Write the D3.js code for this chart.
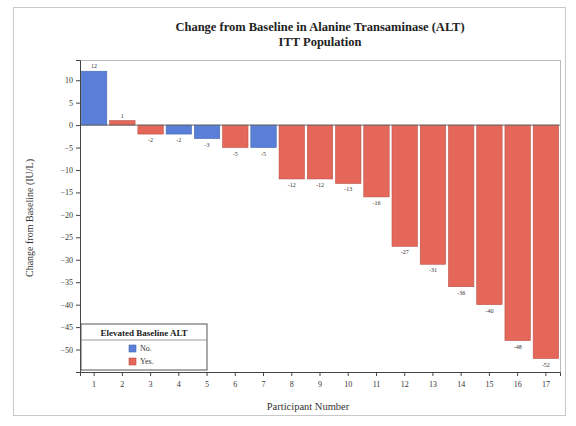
<!DOCTYPE html>
<html>
<head>
<meta charset="utf-8">
<script src="https://cdn.jsdelivr.net/npm/d3@7"></script>
<style>
  body { margin: 0; background: #fff; }
  svg { display: block; }
</style>
</head>
<body>
<svg id="chart" width="576" height="426"></svg>
<script>
const participants = ["1","2","3","4","5","6","7","8","9","10","11","12","13","14","15","16","17"];
const changeALT = [12, 1, -2, -2, -3, -5, -5, -12, -12, -13, -16, -27, -31, -36, -40, -48, -52];
const elevated = ["No","Yes","Yes","No","No","Yes","No","Yes","Yes","Yes","Yes","Yes","Yes","Yes","Yes","Yes","Yes"];
const yTicks = [10, 5, 0, -5, -10, -15, -20, -25, -30, -35, -40, -45, -50];
const legendItems = ["No", "Yes"];

const colors = { "No": "#5a7fd8", "Yes": "#e5675a" };
const svg = d3.select("#chart");
const W = 576, H = 426;
const m = { left: 80, right: 16, top: 60, bottom: 54 };
const pw = W - m.left - m.right, ph = H - m.top - m.bottom;
const fontSerif = "'Liberation Serif', 'DejaVu Serif', serif";

// outer frame
svg.append("rect").attr("x", 13.5).attr("y", 7.5).attr("width", 552).attr("height", 408)
  .attr("fill", "#fff").attr("stroke", "#c8c8c8");

const x = d3.scaleBand().domain(participants).range([m.left, m.left + pw]).paddingInner(0.1).paddingOuter(0.05);
const y = d3.scaleLinear().domain([-55, 14.5]).range([m.top + ph, m.top]);

// plot frame
svg.append("rect").attr("x", m.left + 0.5).attr("y", m.top + 0.5).attr("width", pw).attr("height", ph)
  .attr("fill", "none").attr("stroke", "#bbb");

// bars
const bars = participants.map((p, i) => ({ p, v: changeALT[i], g: elevated[i] }));
svg.append("g").selectAll("rect").data(bars).join("rect")
  .attr("x", d => x(d.p))
  .attr("width", x.bandwidth())
  .attr("y", d => y(Math.max(0, d.v)))
  .attr("height", d => Math.abs(y(d.v) - y(0)))
  .attr("fill", d => colors[d.g])
  .attr("stroke", d => d3.color(colors[d.g]).darker(0.6))
  .attr("stroke-width", 0.6);

// zero line
svg.append("line").attr("x1", m.left).attr("x2", m.left + pw).attr("y1", y(0)).attr("y2", y(0))
  .attr("stroke", "#666").attr("stroke-width", 1);

// value labels
svg.append("g").selectAll("text").data(bars).join("text")
  .attr("x", d => x(d.p) + x.bandwidth() / 2)
  .attr("y", d => d.v >= 0 ? y(d.v) - 3 : y(d.v) + 8)
  .attr("text-anchor", "middle")
  .attr("font-family", fontSerif)
  .attr("font-size", 6)
  .attr("fill", "#333")
  .text(d => d.v);

// axes
const yAxis = svg.append("g").attr("transform", `translate(${m.left},0)`)
  .call(d3.axisLeft(y).tickValues(yTicks).tickSize(4).tickPadding(3));
const xAxis = svg.append("g").attr("transform", `translate(0,${m.top + ph})`)
  .call(d3.axisBottom(x).tickSize(4).tickPadding(5));
[yAxis, xAxis].forEach(a => {
  a.selectAll("text").attr("font-family", fontSerif).attr("font-size", 8).attr("fill", "#333");
  a.selectAll("line").attr("stroke", "#444");
  a.select(".domain").attr("stroke", "#444");
});

// titles
svg.append("text").attr("x", m.left + pw / 2).attr("y", 31).attr("text-anchor", "middle")
  .attr("font-family", fontSerif).attr("font-weight", "bold").attr("font-size", 12.5).attr("fill", "#222")
  .text("Change from Baseline in Alanine Transaminase (ALT)");
svg.append("text").attr("x", m.left + pw / 2).attr("y", 46).attr("text-anchor", "middle")
  .attr("font-family", fontSerif).attr("font-weight", "bold").attr("font-size", 12.5).attr("fill", "#222")
  .text("ITT Population");

svg.append("text").attr("x", m.left + pw / 2 - 12).attr("y", 410).attr("text-anchor", "middle")
  .attr("font-family", fontSerif).attr("font-size", 10.5).attr("fill", "#333")
  .text("Participant Number");
svg.append("text").attr("transform", `translate(33,${m.top + ph / 2 + 2}) rotate(-90)`)
  .attr("text-anchor", "middle")
  .attr("font-family", fontSerif).attr("font-size", 10).attr("fill", "#333")
  .text("Change from Baseline (IU/L)");

// legend
const lw = 126, lh = 46;
const lg = svg.append("g").attr("transform", `translate(${m.left + 1},${m.top + ph - lh - 2})`);
lg.append("rect").attr("width", lw).attr("height", lh).attr("fill", "#fff").attr("stroke", "#555");
lg.append("text").attr("x", lw / 2).attr("y", 12).attr("text-anchor", "middle")
  .attr("font-family", fontSerif).attr("font-weight", "bold").attr("font-size", 9).attr("fill", "#222")
  .text("Elevated Baseline ALT");
lg.append("line").attr("x1", 0).attr("x2", lw).attr("y1", 16).attr("y2", 16).attr("stroke", "#999");
legendItems.forEach((k, i) => {
  const gy = 27 + i * 13;
  lg.append("rect").attr("x", 48).attr("y", gy - 6).attr("width", 7).attr("height", 7)
    .attr("fill", colors[k]).attr("stroke", d3.color(colors[k]).darker(0.6)).attr("stroke-width", 0.6);
  lg.append("text").attr("x", 59).attr("y", gy).attr("font-family", fontSerif).attr("font-size", 8)
    .attr("fill", "#333").text(k + ".");
});
</script>
</body>
</html>
